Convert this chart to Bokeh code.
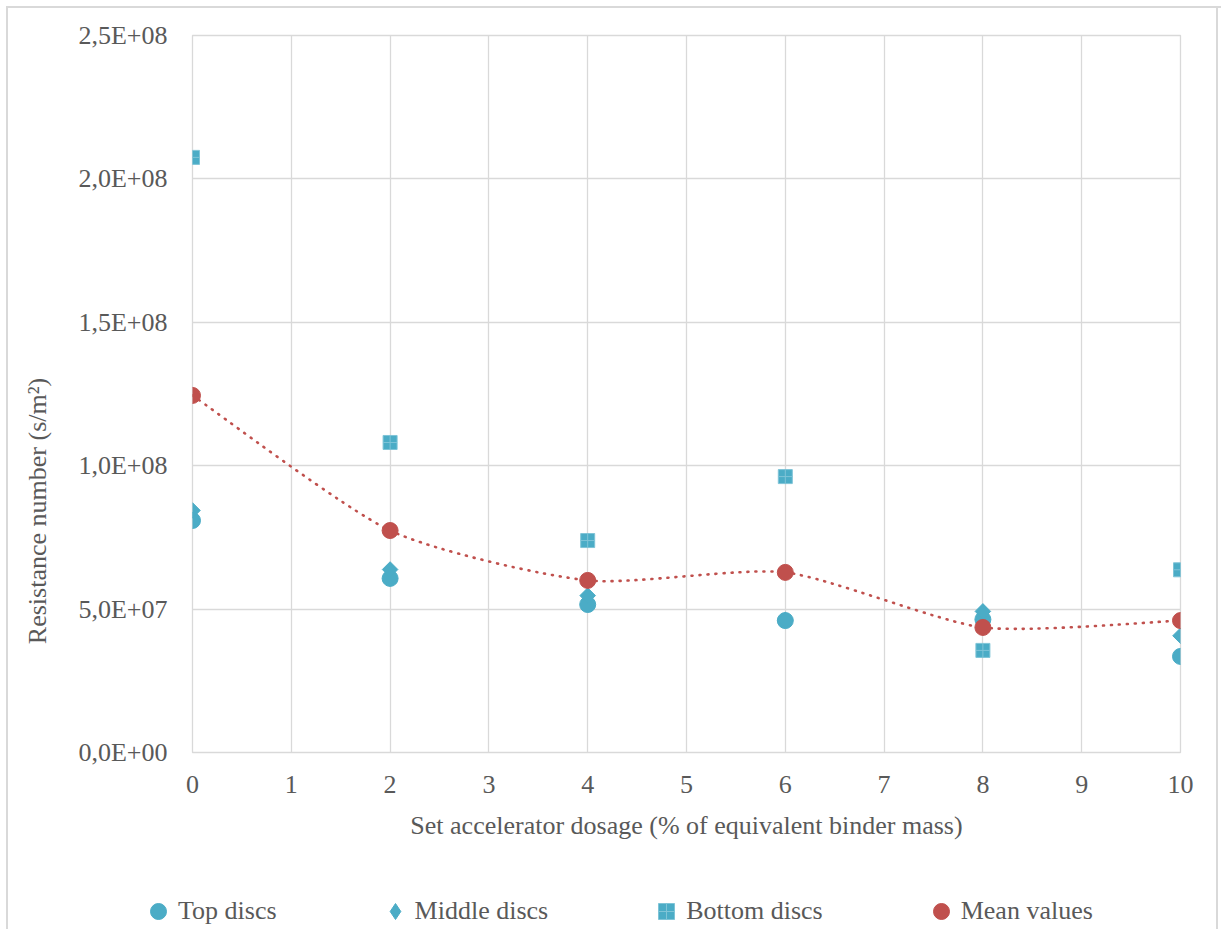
import numpy as np
from bokeh.plotting import figure
from bokeh.layouts import column
from bokeh.models import Range1d, FixedTicker, SingleIntervalTicker, Legend, LegendItem
from bokeh.embed import file_html
from bokeh.resources import INLINE

# ---- data ----
dosage = [0, 2, 4, 6, 8, 10]
top_discs = [8.09e7, 6.07e7, 5.16e7, 4.60e7, 4.64e7, 3.35e7]
middle_discs = [8.44e7, 6.38e7, 5.47e7, 4.62e7, 4.92e7, 4.07e7]
bottom_discs = [2.075e8, 1.081e8, 7.39e7, 9.62e7, 3.56e7, 6.37e7]
mean_values = [1.245e8, 7.74e7, 6.00e7, 6.28e7, 4.36e7, 4.60e7]

y_ticks = [0, 50000000, 100000000, 150000000, 200000000, 250000000]
y_tick_labels = ["0,0E+00", "5,0E+07", "1,0E+08", "1,5E+08", "2,0E+08", "2,5E+08"]

series_names = ["Top discs", "Middle discs", "Bottom discs", "Mean values"]
x_title = "Set accelerator dosage (% of equivalent binder mass)"
y_title = "Resistance number (s/m\u00b2)"

# ---- style ----
FONT = "Liberation Serif"
TXT = "#595959"
GRID = "#D9D9D9"
BLUE = "#4BACC6"
RED = "#C0504D"
BOT_LINE = "#7FC4D7"

p = figure(width=1221, height=870, output_backend="svg", toolbar_location=None,
           x_range=Range1d(0, 10), y_range=Range1d(0, 2.5e8),
           min_border_left=192, min_border_right=41, min_border_top=35, min_border_bottom=118)
p.border_fill_color = None
p.background_fill_color = "white"
p.outline_line_color = GRID
p.outline_line_width = 1.3

p.xaxis.ticker = SingleIntervalTicker(interval=1)
p.yaxis.ticker = FixedTicker(ticks=y_ticks)
p.yaxis.major_label_overrides = {t: lab for t, lab in zip(y_ticks, y_tick_labels)}
for ax in (p.xaxis[0], p.yaxis[0]):
    ax.axis_line_color = None
    ax.major_tick_line_color = None
    ax.minor_tick_line_color = None
    ax.major_label_text_font = FONT
    ax.major_label_text_font_size = "26px"
    ax.major_label_text_color = TXT
    ax.axis_label_text_font = FONT
    ax.axis_label_text_font_size = "26px"
    ax.axis_label_text_font_style = "normal"
    ax.axis_label_text_color = TXT
p.yaxis.major_label_standoff = 19
p.xaxis.major_label_standoff = 17
p.xaxis.axis_label = x_title
p.xaxis.axis_label_standoff = 15
# trailing em spaces move the visible title toward the bottom of the axis, as in the original
p.yaxis.axis_label = y_title + "\u2003" * 9
p.yaxis.axis_label_standoff = 23

p.xgrid.grid_line_color = GRID
p.ygrid.grid_line_color = GRID
p.xgrid.grid_line_width = 1.3
p.ygrid.grid_line_width = 1.3

# smoothed mean line (Bezier segments whose control points come from the data points)
K = 1.0 / 9.0
xs = np.array(dosage, dtype=float)
ys = np.array(mean_values, dtype=float)
px = np.concatenate([[xs[0]], xs, [xs[-1]]])
py = np.concatenate([[ys[0]], ys, [ys[-1]]])
n = len(xs)
x0 = px[1:n]; y0 = py[1:n]
x1 = px[2:n + 1]; y1 = py[2:n + 1]
cx0 = px[1:n] + (px[2:n + 1] - px[0:n - 1]) * K
cy0 = py[1:n] + (py[2:n + 1] - py[0:n - 1]) * K
cx1 = px[2:n + 1] - (px[3:n + 2] - px[1:n]) * K
cy1 = py[2:n + 1] - (py[3:n + 2] - py[1:n]) * K
p.bezier(x0=x0, y0=y0, x1=x1, y1=y1, cx0=cx0, cy0=cy0, cx1=cx1, cy1=cy1,
         line_color=RED, line_width=2.6, line_dash="1 7", line_cap="round")

p.scatter(dosage, top_discs, marker="circle", size=16, fill_color=BLUE, line_color=BLUE)
p.scatter(dosage, middle_discs, marker="square", angle=np.pi / 4, size=11,
          fill_color=BLUE, line_color=BLUE)
p.scatter(dosage, bottom_discs, marker="square_cross", size=14, fill_color=BLUE,
          line_color=BOT_LINE, line_width=1)
p.scatter(dosage, mean_values, marker="circle", size=16, fill_color=RED, line_color=RED)

# ---- legend strip below the chart ----
lg = figure(width=1221, height=59, output_backend="svg", toolbar_location=None,
            x_range=Range1d(0, 1), y_range=Range1d(0, 1),
            x_axis_location=None, y_axis_location=None, min_border=0)
lg.grid.visible = False
lg.outline_line_color = None
lg.border_fill_color = None
lg.background_fill_color = None
if "frame_align" in type(lg).properties():
    lg.frame_align = False
    leg_x = 138
else:
    leg_x = 0
# the series are plotted here only to supply the legend swatches (they fall outside this strip's ranges)
s_top = lg.scatter(dosage, top_discs, marker="circle", fill_color=BLUE, line_color=BLUE)
s_mid = lg.scatter(dosage, middle_discs, marker="diamond", fill_color=BLUE, line_color=BLUE)
s_bot = lg.scatter(dosage, bottom_discs, marker="square_cross", fill_color=BLUE,
                   line_color=BOT_LINE, line_width=1)
s_mean = lg.scatter(dosage, mean_values, marker="circle", fill_color=RED, line_color=RED)

legend = Legend(items=[LegendItem(label=series_names[0], renderers=[s_top]),
                       LegendItem(label=series_names[1], renderers=[s_mid]),
                       LegendItem(label=series_names[2], renderers=[s_bot]),
                       LegendItem(label=series_names[3], renderers=[s_mean])],
                orientation="horizontal", location=(leg_x, -2), spacing=98,
                label_standoff=-6, glyph_width=40, glyph_height=40, padding=0, margin=0,
                border_line_color=None, background_fill_alpha=0,
                label_text_font=FONT, label_text_font_size="26px", label_text_color=TXT)
lg.add_layout(legend)

layout = column(p, lg, spacing=0)
layout.styles = {
    "background-color": "white",
    "box-shadow": ("inset 6px 6px 0 0 white, inset 8px 8px 0 0 #D9D9D9, "
                   "inset -3px 0 0 0 white, inset -5px 0 0 0 #D9D9D9"),
}

open("out.html", "w").write(file_html(layout, INLINE))
